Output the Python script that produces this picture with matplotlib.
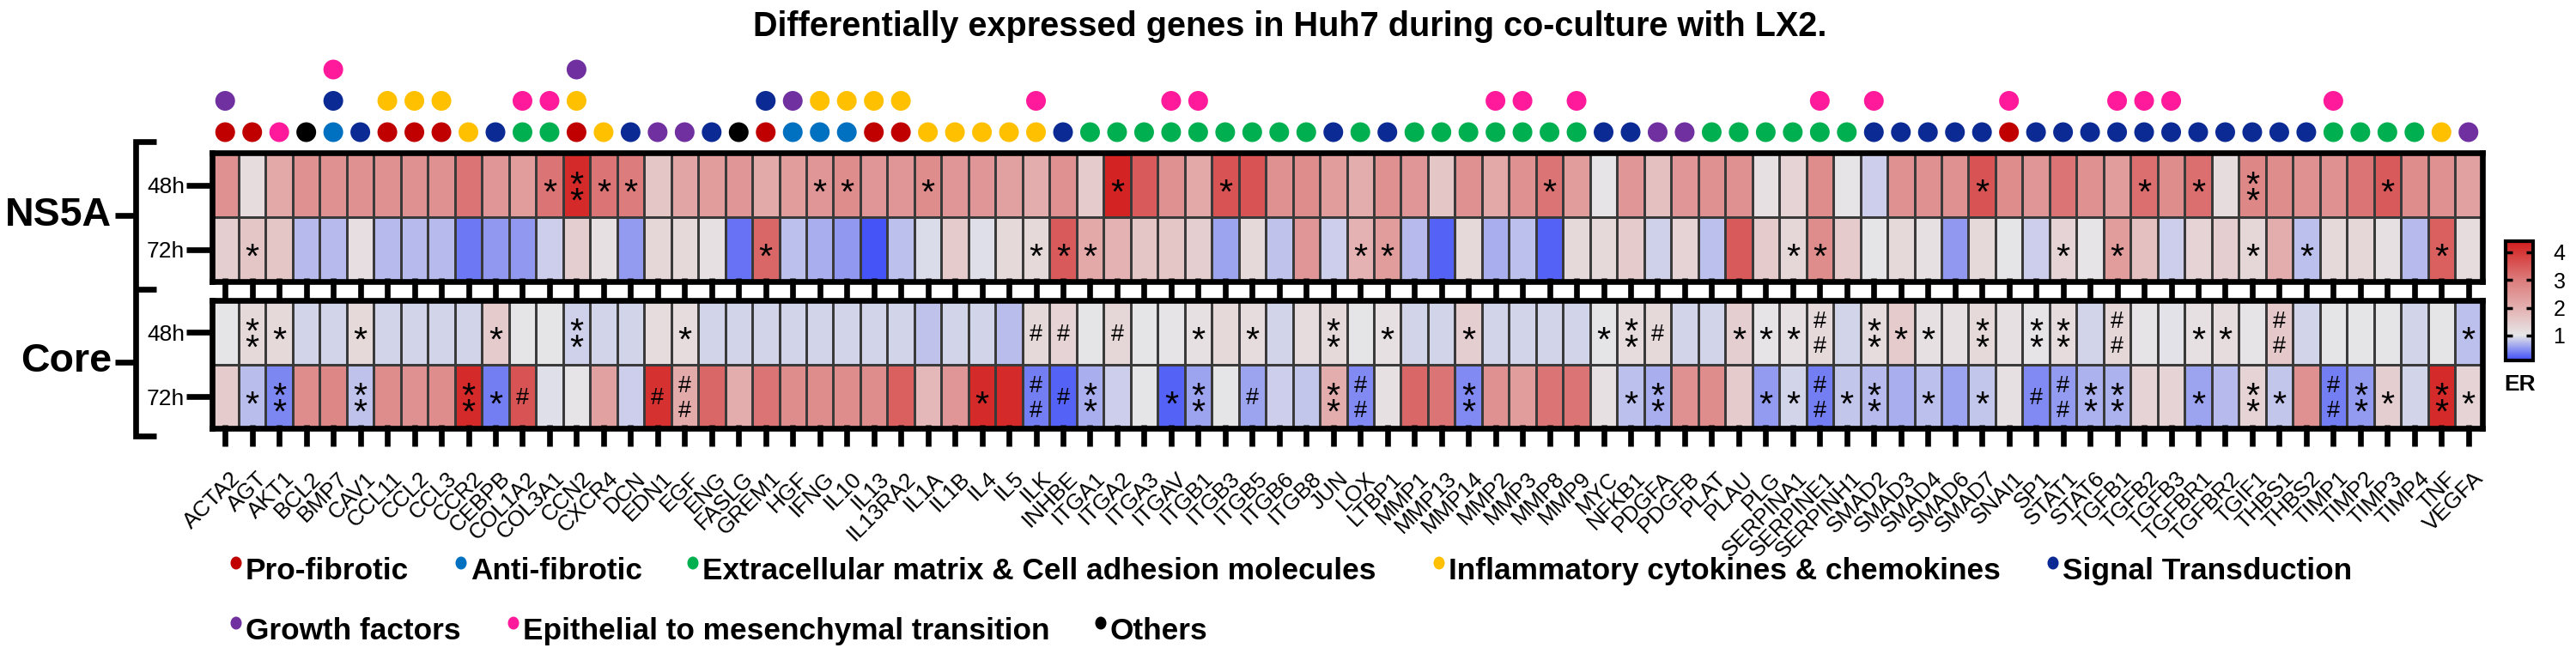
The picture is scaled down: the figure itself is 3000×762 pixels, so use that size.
import numpy as np
import matplotlib
matplotlib.use("Agg")
import matplotlib.pyplot as plt
from matplotlib.colors import LinearSegmentedColormap, Normalize
from matplotlib.patches import Ellipse
from matplotlib import font_manager, transforms
from matplotlib.textpath import TextPath
from matplotlib.font_manager import FontProperties

W, H, DPI = 3000, 762, 100

# ---------------------------------------------------------------- data
genes = ["ACTA2", "AGT", "AKT1", "BCL2", "BMP7", "CAV1", "CCL11", "CCL2", "CCL3", "CCR2",
         "CEBPB", "COL1A2", "COL3A1", "CCN2", "CXCR4", "DCN", "EDN1", "EGF", "ENG", "FASLG",
         "GREM1", "HGF", "IFNG", "IL10", "IL13", "IL13RA2", "IL1A", "IL1B", "IL4", "IL5",
         "ILK", "INHBE", "ITGA1", "ITGA2", "ITGA3", "ITGAV", "ITGB1", "ITGB3", "ITGB5", "ITGB6",
         "ITGB8", "JUN", "LOX", "LTBP1", "MMP1", "MMP13", "MMP14", "MMP2", "MMP3", "MMP8",
         "MMP9", "MYC", "NFKB1", "PDGFA", "PDGFB", "PLAT", "PLAU", "PLG", "SERPINA1", "SERPINE1",
         "SERPINH1", "SMAD2", "SMAD3", "SMAD4", "SMAD6", "SMAD7", "SNAI1", "SP1", "STAT1", "STAT6",
         "TGFB1", "TGFB2", "TGFB3", "TGFBR1", "TGFBR2", "TGIF1", "THBS1", "THBS2", "TIMP1", "TIMP2",
         "TIMP3", "TIMP4", "TNF", "VEGFA"]

# category codes per gene, listed from the bottom dot upwards
gene_categories = ["PG", "P", "M", "O", "ASM", "S", "PI", "PI", "PI", "I",
                   "S", "EM", "EM", "PIG", "I", "S", "G", "G", "S", "O",
                   "PS", "AG", "AI", "AI", "PI", "PI", "I", "I", "I", "I",
                   "IM", "S", "E", "E", "E", "EM", "EM", "E", "E", "E",
                   "E", "S", "E", "S", "E", "E", "E", "EM", "EM", "E",
                   "EM", "S", "S", "G", "G", "E", "E", "E", "E", "EM",
                   "E", "SM", "S", "S", "S", "S", "PM", "S", "S", "S",
                   "SM", "SM", "SM", "S", "S", "S", "S", "S", "EM", "E",
                   "E", "E", "I", "G"]

ns5a_48h = [2.6, 1.18, 2.15, 2.6, 2.6, 2.6, 2.6, 2.6, 2.6, 3.1,
            2.5, 2.4, 3.1, 4.2, 3.1, 3.0, 1.6, 2.2, 2.4, 2.5,
            2.1, 2.4, 2.5, 2.7, 2.5, 2.5, 2.7, 2.5, 2.5, 2.3,
            2.05, 2.6, 1.5, 4.3, 3.5, 2.6, 2.15, 3.6, 3.6, 2.6,
            2.7, 2.4, 2.05, 2.6, 2.5, 1.6, 2.6, 2.15, 2.6, 3.1,
            2.4, 1.05, 2.5, 1.7, 2.5, 2.6, 2.6, 1.12, 1.35, 2.7,
            1.05, 0.86, 2.6, 2.6, 2.6, 3.6, 2.7, 2.5, 3.1, 2.6,
            2.4, 3.2, 2.7, 3.2, 1.18, 2.8, 2.7, 2.6, 2.6, 3.1,
            3.5, 2.7, 2.6, 2.3]
ns5a_72h = [1.45, 1.6, 1.6, 0.74, 0.74, 1.15, 0.74, 0.74, 0.74, 0.36,
            0.54, 0.54, 0.86, 1.45, 1.12, 0.57, 1.3, 1.25, 1.12, 0.33,
            3.3, 0.78, 0.68, 0.54, 0.15, 0.78, 0.95, 1.5, 0.97, 1.25,
            1.25, 3.5, 2.15, 1.95, 1.6, 1.6, 1.45, 0.62, 1.25, 0.8,
            2.5, 0.86, 1.95, 2.4, 0.74, 0.22, 1.25, 0.68, 0.78, 0.22,
            1.25, 1.25, 1.5, 0.88, 1.35, 0.78, 3.5, 1.5, 1.3, 2.7,
            1.5, 1.0, 1.25, 1.12, 0.54, 1.25, 1.0, 0.86, 1.35, 1.05,
            2.4, 1.7, 0.86, 1.35, 1.45, 1.3, 2.05, 0.78, 1.25, 1.3,
            1.12, 0.74, 3.4, 1.18]
core_48h = [1.0, 1.25, 1.25, 0.9, 0.9, 1.25, 0.9, 0.9, 0.9, 0.9,
            1.5, 1.0, 1.0, 0.88, 0.9, 0.9, 1.18, 1.18, 0.9, 0.9,
            0.9, 0.9, 0.9, 0.9, 0.9, 0.9, 0.8, 0.9, 0.9, 0.76,
            1.25, 1.35, 1.0, 1.3, 1.0, 1.05, 1.12, 1.25, 1.18, 0.9,
            1.18, 1.25, 1.0, 1.12, 0.9, 0.9, 1.45, 0.9, 0.9, 0.9,
            0.9, 1.0, 1.18, 1.25, 0.9, 0.9, 1.45, 1.05, 1.12, 1.25,
            0.9, 1.18, 1.5, 1.12, 1.12, 1.25, 1.12, 1.05, 1.18, 0.9,
            1.3, 1.05, 0.98, 1.12, 1.18, 1.05, 1.55, 0.9, 1.0, 1.0,
            1.0, 0.9, 1.0, 0.78]
core_72h = [1.5, 0.76, 0.45, 2.7, 2.8, 0.8, 2.7, 2.6, 2.7, 4.2,
            0.4, 3.6, 0.97, 1.05, 2.3, 0.86, 4.1, 2.1, 3.3, 2.05,
            3.1, 2.7, 2.7, 2.7, 2.7, 3.4, 1.85, 2.5, 4.2, 4.2,
            0.4, 0.22, 0.68, 0.86, 1.0, 0.22, 0.62, 1.0, 0.62, 0.86,
            0.82, 2.05, 0.46, 1.12, 3.3, 3.1, 0.46, 2.6, 2.4, 3.1,
            3.1, 1.12, 0.78, 0.68, 2.6, 2.7, 1.5, 0.57, 0.9, 0.4,
            0.82, 0.74, 0.68, 0.78, 0.62, 0.82, 1.12, 0.46, 0.57, 0.7,
            0.7, 1.35, 1.35, 0.62, 0.74, 1.35, 0.82, 2.6, 0.4, 0.57,
            1.45, 0.9, 4.2, 1.35]

sig_ns5a_48h = {"COL3A1": "*", "CCN2": "**", "CXCR4": "*", "DCN": "*", "IFNG": "*",
                "IL10": "*", "IL1A": "*", "ITGA2": "*", "ITGB3": "*", "MMP8": "*",
                "SMAD7": "*", "TGFB2": "*", "TGFBR1": "*", "TGIF1": "**", "TIMP3": "*"}
sig_ns5a_72h = {"AGT": "*", "GREM1": "*", "ILK": "*", "INHBE": "*", "ITGA1": "*",
                "LOX": "*", "LTBP1": "*", "SERPINA1": "*", "SERPINE1": "*", "STAT1": "*",
                "TGFB1": "*", "TGIF1": "*", "THBS2": "*", "TNF": "*"}
sig_core_48h = {"AGT": "**", "AKT1": "*", "CAV1": "*", "CEBPB": "*", "CCN2": "**",
                "EGF": "*", "ILK": "#", "INHBE": "#", "ITGA2": "#", "ITGB1": "*",
                "ITGB5": "*", "JUN": "**", "LTBP1": "*", "MMP14": "*", "MYC": "*",
                "NFKB1": "**", "PDGFA": "#", "PLAU": "*", "PLG": "*", "SERPINA1": "*",
                "SERPINE1": "##", "SMAD2": "**", "SMAD3": "*", "SMAD4": "*", "SMAD7": "**",
                "SP1": "**", "STAT1": "**", "TGFB1": "##", "TGFBR1": "*", "TGFBR2": "*",
                "THBS1": "##", "VEGFA": "*"}
sig_core_72h = {"AGT": "*", "AKT1": "**", "CAV1": "**", "CCR2": "**", "CEBPB": "*",
                "COL1A2": "#", "EDN1": "#", "EGF": "##", "IL4": "*", "ILK": "##",
                "INHBE": "#", "ITGA1": "**", "ITGAV": "*", "ITGB1": "**", "ITGB5": "#",
                "JUN": "**", "LOX": "##", "MMP14": "**", "NFKB1": "*", "PDGFA": "**",
                "PLG": "*", "SERPINA1": "*", "SERPINE1": "##", "SERPINH1": "*", "SMAD2": "**",
                "SMAD4": "*", "SMAD7": "*", "SP1": "#", "STAT1": "##", "STAT6": "**",
                "TGFB1": "**", "TGFBR1": "*", "TGIF1": "**", "THBS1": "*", "TIMP1": "##",
                "TIMP2": "**", "TIMP3": "*", "TNF": "**", "VEGFA": "*"}

row_labels = ["48h", "72h"]
group_labels = ["NS5A", "Core"]
cbar_ticks = [1, 2, 3, 4]
title = "Differentially expressed genes in Huh7 during co-culture with LX2."

cat_colors = {"P": "#C00000", "A": "#0070C0", "E": "#00B050", "I": "#FFC000",
              "S": "#0B2A94", "G": "#7030A0", "M": "#FF1A9C", "O": "#000000"}
legend_items = [("P", "Pro-fibrotic"), ("A", "Anti-fibrotic"),
                ("E", "Extracellular matrix & Cell adhesion molecules"),
                ("I", "Inflammatory cytokines & chemokines"), ("S", "Signal Transduction"),
                ("G", "Growth factors"), ("M", "Epithelial to mesenchymal transition"),
                ("O", "Others")]

# ---------------------------------------------------------------- style
plt.rcParams["font.family"] = ["Liberation Sans", "DejaVu Sans"]
names = {f.name for f in font_manager.fontManager.ttflist}
if "Liberation Sans Narrow" in names:
    title_family, title_size = ["Liberation Sans Narrow", "Liberation Sans"], 32
else:
    title_family, title_size = ["Liberation Sans"], 28.5

VMIN, VMAX = 0.1, 4.4
nodes = [(0.1, (62, 78, 248)), (1.0, (230, 230, 232)), (2.0, (228, 176, 176)),
         (3.0, (220, 124, 124)), (4.0, (214, 56, 56)), (4.4, (210, 30, 30))]
cmap = LinearSegmentedColormap.from_list(
    "er", [((v - VMIN) / (VMAX - VMIN), tuple(c / 255 for c in rgb)) for v, rgb in nodes])
norm = Normalize(VMIN, VMAX)

fig = plt.figure(figsize=(W / DPI, H / DPI), dpi=DPI)
renderer = fig.canvas.get_renderer()


def rect(x0, y0, x1, y1):
    return [x0 / W, 1 - y1 / H, (x1 - x0) / W, (y1 - y0) / H]


ov = fig.add_axes([0, 0, 1, 1])
ov.set_xlim(0, W)
ov.set_ylim(H, 0)
ov.axis("off")

X0, X1 = 246.5, 2890.5
n = len(genes)
SPW = 4.8  # spine / tick width in points
PX = DPI / 72.0

fp = FontProperties(family="Liberation Sans")


def glyph(ch, target_px, step_px):
    ext = TextPath((0, 0), ch, size=1, prop=fp).get_extents()
    fs = target_px / ext.height / PX
    c_px = (ext.y0 + ext.y1) / 2 * fs * PX          # glyph centre above baseline
    prop = FontProperties(family="Liberation Sans", size=fs)
    _, lp_h, lp_d = renderer.get_text_width_height_descent("lp", prop, ismath=False)
    _, g_h, g_d = renderer.get_text_width_height_descent(ch, prop, ismath=False)
    h, d = max(g_h, lp_h), max(g_d, lp_d)
    ls = (step_px - d) / (h - d)                      # linespacing giving the wanted step
    off2 = (h / 2 - d - c_px) / PX                   # points, for the stacked pair (va=center)
    return dict(fs=fs, c=c_px / PX, ls=ls, off2=off2)


GLYPH = {"*": glyph("*", 14.5, 19.0), "#": glyph("#", 18.5, 28.6)}


def draw_sig(ax, x, y, s):
    g = GLYPH[s[0]]
    if len(s) == 1:
        tr = transforms.offset_copy(ax.transData, fig=fig, x=0, y=-g["c"], units="points")
        ax.text(x, y, s, ha="center", va="baseline", fontsize=g["fs"], transform=tr,
                color="black", zorder=5)
    else:
        tr = transforms.offset_copy(ax.transData, fig=fig, x=0, y=g["off2"], units="points")
        ax.text(x, y, s[0] + "\n" + s[1], ha="center", va="center", fontsize=g["fs"],
                linespacing=g["ls"], multialignment="center", transform=tr,
                color="black", zorder=5)


def heat(ax, rows, sigs, show_labels):
    data = np.array(rows)
    ax.pcolormesh(np.arange(n + 1), np.arange(3), data, cmap=cmap, norm=norm,
                  edgecolors="#3a3a3a", linewidth=1.0)
    ax.set_xlim(0, n)
    ax.set_ylim(2, 0)
    for r, sd in enumerate(sigs):
        for gname, s in sd.items():
            draw_sig(ax, genes.index(gname) + 0.5, r + 0.5, s)
    for sp in ax.spines.values():
        sp.set_linewidth(SPW)
    ax.set_yticks([0.5, 1.5], row_labels)
    ax.tick_params(axis="y", length=21.5, width=SPW, labelsize=19, pad=1)
    ax.set_xticks(np.arange(n) + 0.5)
    ax.xaxis.remove_overlapping_locs = False
    ax.set_xticks(np.arange(n) + 0.5, minor=True)
    ax.tick_params(axis="x", which="minor", direction="in", length=3, width=SPW,
                   bottom=True, top=False)
    if show_labels:
        ax.set_xticklabels(genes, rotation=45, ha="right", va="top",
                           rotation_mode="anchor", fontsize=18.8)
        ax.tick_params(axis="x", which="major", length=15, width=SPW, pad=18)
        shift = transforms.ScaledTranslation(5 / DPI, 0, fig.dpi_scale_trans)
        for lab in ax.get_xticklabels():
            lab.set_transform(lab.get_transform() + shift)
    else:
        ax.tick_params(axis="x", which="major", length=15.6, width=SPW, labelbottom=False)


ax_n = fig.add_axes(rect(X0, 178.2, X1, 328.3))
heat(ax_n, [ns5a_48h, ns5a_72h], [sig_ns5a_48h, sig_ns5a_72h], False)
ax_c = fig.add_axes(rect(X0, 350.0, X1, 499.5))
heat(ax_c, [core_48h, core_72h], [sig_core_48h, sig_core_72h], True)

# category dots
ax_d = fig.add_axes(rect(X0, 62.75, X1, 172.25))
ax_d.set_xlim(0, n)
ax_d.set_ylim(-0.5, 2.5)
ax_d.axis("off")
for i, cats in enumerate(gene_categories):
    for k, c in enumerate(cats):
        ax_d.add_patch(Ellipse((i + 0.5, k), 23 / 31.48, 23 / 36.5, color=cat_colors[c], lw=0))

# bracket + group labels
lw = SPW
ov.plot([182, 158, 158, 182], [165, 165, 508, 508], color="k", lw=lw,
        solid_joinstyle="miter", solid_capstyle="butt")
ov.plot([158, 182], [336.5, 336.5], color="k", lw=lw, solid_capstyle="butt")
for yc, yb, lab in [(250.5, 263, group_labels[0]), (422, 433, group_labels[1])]:
    ov.plot([134, 158], [yc, yc], color="k", lw=lw, solid_capstyle="butt")
    ov.text(130, yb, lab, ha="right", va="baseline", fontsize=33.5, fontweight="bold")

# title
ov.text(1502, 42, title, ha="center", va="baseline", fontsize=title_size,
        fontweight="bold", family=title_family)

# colorbar
cax = fig.add_axes(rect(2917.5, 281, 2950, 420))
sm = plt.cm.ScalarMappable(norm=norm, cmap=cmap)
cb = fig.colorbar(sm, cax=cax, ticks=cbar_ticks)
cb.outline.set_linewidth(3)
cb.minorticks_off()
cax.tick_params(axis="y", which="major", direction="in", length=5.5, width=2.5,
                left=True, right=True, labelleft=False, labelright=True,
                labelsize=18, pad=17)
ov.text(2935, 455, "ER", ha="center", va="baseline", fontsize=19, fontweight="bold")

# legend
leg_pos = [(275, 675), (537, 675), (807, 675), (1676, 675), (2391, 675),
           (275, 745), (598, 745), (1282, 745)]
for (code, label), (x, yb) in zip(legend_items, leg_pos):
    ov.add_patch(Ellipse((x, yb - 19), 13, 15, color=cat_colors[code], lw=0))
    ov.text(x + 11, yb, label, ha="left", va="baseline", fontsize=25.4, fontweight="bold")

fig.savefig("out.png", dpi=DPI)
